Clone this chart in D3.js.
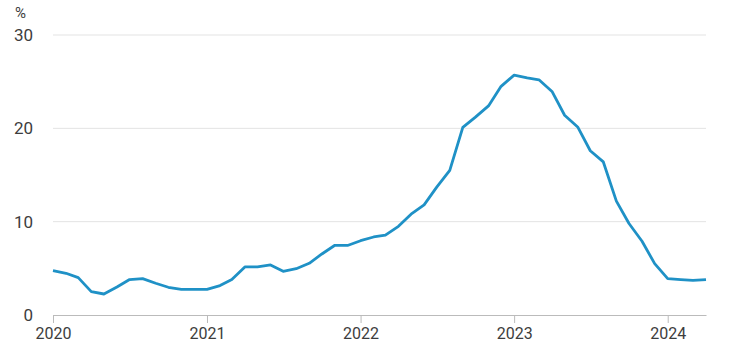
<!DOCTYPE html>
<html>
<head>
<meta charset="utf-8">
<script src="https://cdn.jsdelivr.net/npm/d3@7"></script>
<style>
    body { margin: 0; background: #fff; }
    text { font-family: Roboto, "Noto Sans", sans-serif; }
</style>
</head>
<body>
<div id="vis"></div>
<script>

// monthly values, Jan 2020 .. Apr 2024
let startYear = 2020;
let values = [
    4.75, 4.47, 4.0, 2.5, 2.25, 3.0, 3.8, 3.9, 3.4, 2.97, 2.75, 2.75,      // 2020
    2.75, 3.15, 3.8, 5.15, 5.15, 5.36, 4.68, 4.96, 5.54, 6.54, 7.47, 7.45, // 2021
    7.96, 8.36, 8.55, 9.5, 10.8, 11.8, 13.7, 15.5, 20.1, 21.2, 22.4, 24.5,  // 2022
    25.7, 25.4, 25.2, 23.95, 21.4, 20.15, 17.6, 16.4, 12.2, 9.8, 7.9, 5.5,  // 2023
    3.9, 3.8, 3.7, 3.8                                                      // 2024
];
let yTicks = [0, 10, 20, 30];
let xTickYears = [2020, 2021, 2022, 2023, 2024];

let data = values.map((v, i) => ({
    date: new Date(startYear + Math.floor(i / 12), i % 12, 1),
    value: v
}));

let margin = {top: 35, right: 24, bottom: 39, left: 53};
let W = 730, H = 354;
let width = W - margin.left - margin.right,
    height = H - margin.top - margin.bottom;

let svg = d3.select('#vis')
    .append('svg')
    .attr('width', W)
    .attr('height', H);

let g = svg.append('g')
    .attr('transform', 'translate(' + margin.left + ',' + margin.top + ')');

let xScale = d3.scaleTime()
    .domain(d3.extent(data, d => d.date))
    .range([0, width]);

let yScale = d3.scaleLinear()
    .domain([0, 30])
    .range([height, 0]);

// grid lines
g.append('g')
    .selectAll('line')
    .data(yTicks.filter(t => t > 0))
    .enter()
    .append('line')
    .attr('x1', 0)
    .attr('x2', width)
    .attr('y1', d => yScale(d))
    .attr('y2', d => yScale(d))
    .attr('stroke', '#e3e3e3')
    .attr('stroke-width', 1);

// y labels
let yAxis = d3.axisLeft(yScale)
    .tickValues(yTicks)
    .tickSize(0)
    .tickPadding(20);

let yGuide = g.append('g').call(yAxis);
yGuide.select('.domain').remove();
yGuide.selectAll('text')
    .attr('fill', '#3d3d3d')
    .style('font-size', '17px');

svg.append('text')
    .attr('x', 15)
    .attr('y', 18)
    .attr('fill', '#3d3d3d')
    .style('font-size', '15px')
    .text('%');

// x axis
let xAxis = d3.axisBottom(xScale)
    .tickValues(xTickYears.map(y => new Date(y, 0, 1)))
    .tickFormat(d3.timeFormat('%Y'))
    .tickSize(8)
    .tickSizeOuter(0)
    .tickPadding(5);

let xGuide = g.append('g')
    .attr('transform', 'translate(0,' + height + ')')
    .call(xAxis);
xGuide.select('.domain').attr('stroke', '#bbb');
xGuide.selectAll('.tick line').attr('stroke', '#bbb');
xGuide.selectAll('text')
    .attr('fill', '#3d3d3d')
    .style('font-size', '16px');

// line
let line = d3.line()
    .x(d => xScale(d.date))
    .y(d => yScale(d.value));

g.append('path')
    .datum(data)
    .attr('fill', 'none')
    .attr('stroke', '#1f91c6')
    .attr('stroke-width', 2.8)
    .attr('stroke-linejoin', 'round')
    .attr('d', line);

</script>
</body>
</html>
